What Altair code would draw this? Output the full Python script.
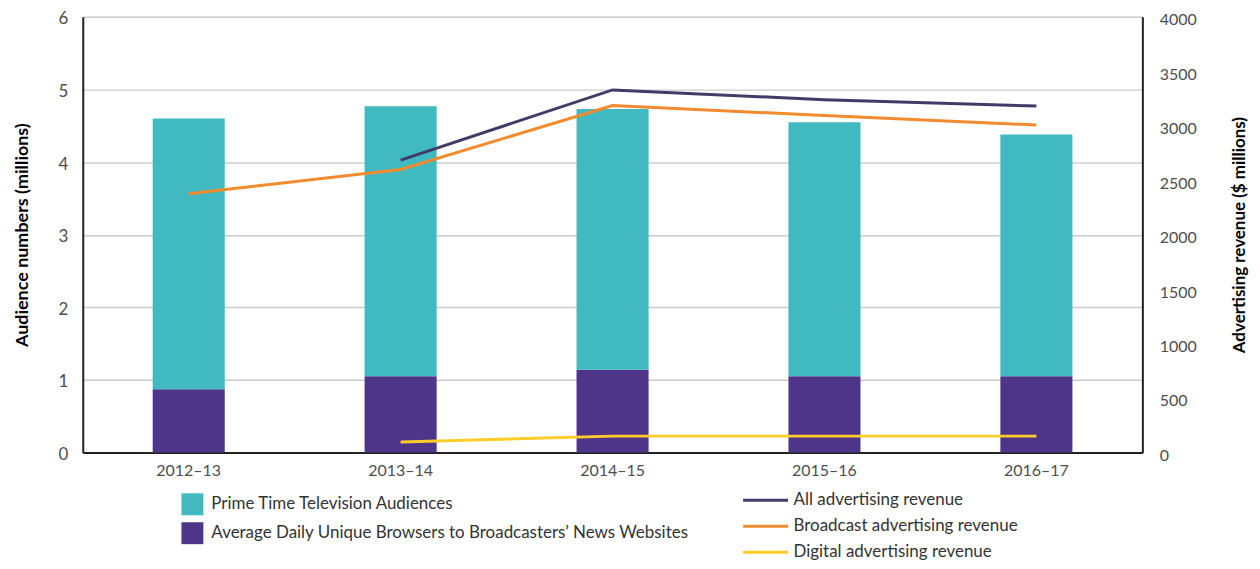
import altair as alt
import pandas as pd

years = ["2012–13", "2013–14", "2014–15", "2015–16", "2016–17"]
prime_time = [3.73, 3.72, 3.59, 3.50, 3.33]
browsers = [0.87, 1.05, 1.14, 1.05, 1.05]
all_adv = [None, 2685, 3329, 3239, 3181]
broadcast_adv = [2375, 2598, 3185, 3094, 3007]
digital_adv = [None, 95, 150, 150, 150]

bar_series = ["Prime Time Television Audiences",
              "Average Daily Unique Browsers to Broadcasters’ News Websites"]
line_series = ["All advertising revenue", "Broadcast advertising revenue",
               "Digital advertising revenue"]

bar_colors = ["#40B9C1", "#4F3589"]
line_colors = ["#433B67", "#F28A2E", "#FFCC29"]

FONT = "Lato"

bar_rows = []
for y, p, b in zip(years, prime_time, browsers):
    bar_rows.append({"year": y, "series": bar_series[1], "low": 0, "high": b})
    bar_rows.append({"year": y, "series": bar_series[0], "low": b, "high": b + p})
bar_df = pd.DataFrame(bar_rows)

line_rows = []
for name, vals in zip(line_series, [all_adv, broadcast_adv, digital_adv]):
    for y, v in zip(years, vals):
        if v is not None:
            line_rows.append({"year": y, "series": name, "value": v})
line_df = pd.DataFrame(line_rows)

x_enc = alt.X("year:N", sort=years,
              scale=alt.Scale(paddingInner=0.66, paddingOuter=0.33),
              axis=alt.Axis(title=None, labelAngle=0, ticks=False, labelPadding=10,
                            domainColor="#222222", domainWidth=2,
                            labelFontSize=16, labelColor="#4d4d4d"))

bars = alt.Chart(bar_df).mark_bar().encode(
    x=x_enc,
    y=alt.Y("low:Q", scale=alt.Scale(domain=[0, 6]),
            axis=alt.Axis(title="Audience numbers (millions)", orient="left",
                          values=[0, 1, 2, 3, 4, 5, 6], ticks=False, labelPadding=15,
                          labelOffset=2,
                          domainColor="#222222", domainWidth=2,
                          gridColor="#cccccc", gridWidth=1.5,
                          labelFontSize=17, labelColor="#4d4d4d",
                          titleFontSize=18, titleFontWeight="bold", titleColor="#000000",
                          titleX=-51, titleBaseline="bottom")),
    y2="high:Q",
    color=alt.Color("series:N",
                    scale=alt.Scale(domain=bar_series, range=bar_colors),
                    legend=alt.Legend(title=None, orient="none", legendX=99, legendY=478,
                                      symbolType="square", symbolSize=484,
                                      symbolStrokeWidth=0, symbolOpacity=1,
                                      labelFontSize=17, labelColor="#333333",
                                      labelOffset=8, rowPadding=7, padding=0,
                                      labelLimit=600)),
)

lines = alt.Chart(line_df).mark_line(strokeWidth=3).encode(
    x=alt.X("year:N", sort=years),
    y=alt.Y("value:Q", scale=alt.Scale(domain=[0, 4000]),
            axis=alt.Axis(title="Advertising revenue ($ millions)", orient="right",
                          values=list(range(0, 4001, 500)), format="d",
                          ticks=False, labelPadding=17, labelOffset=3,
                          grid=False, domainColor="#222222", domainWidth=2,
                          labelFontSize=16, labelColor="#4d4d4d",
                          titleFontSize=17, titleFontWeight="bold", titleColor="#000000",
                          titleAngle=270, titleX=89, titleBaseline="top")),
    color=alt.Color("series:N",
                    scale=alt.Scale(domain=line_series, range=line_colors),
                    legend=alt.Legend(title=None, orient="none", legendX=672, legendY=472,
                                      symbolType="M-2,0L2,0", symbolSize=506,
                                      symbolStrokeWidth=3,
                                      labelFontSize=17, labelColor="#333333",
                                      labelOffset=15, rowPadding=5, padding=0,
                                      labelLimit=600)),
)

chart = alt.layer(bars, lines).resolve_scale(
    y="independent", color="independent"
).properties(
    width=1063, height=437,
    autosize=alt.AutoSizeParams(type="none"),
    padding={"left": 75, "top": 8, "right": 110, "bottom": 108},
).configure_view(stroke=None).configure(font=FONT)

chart.save("out.html", embed_options={"renderer": "svg", "actions": False})
